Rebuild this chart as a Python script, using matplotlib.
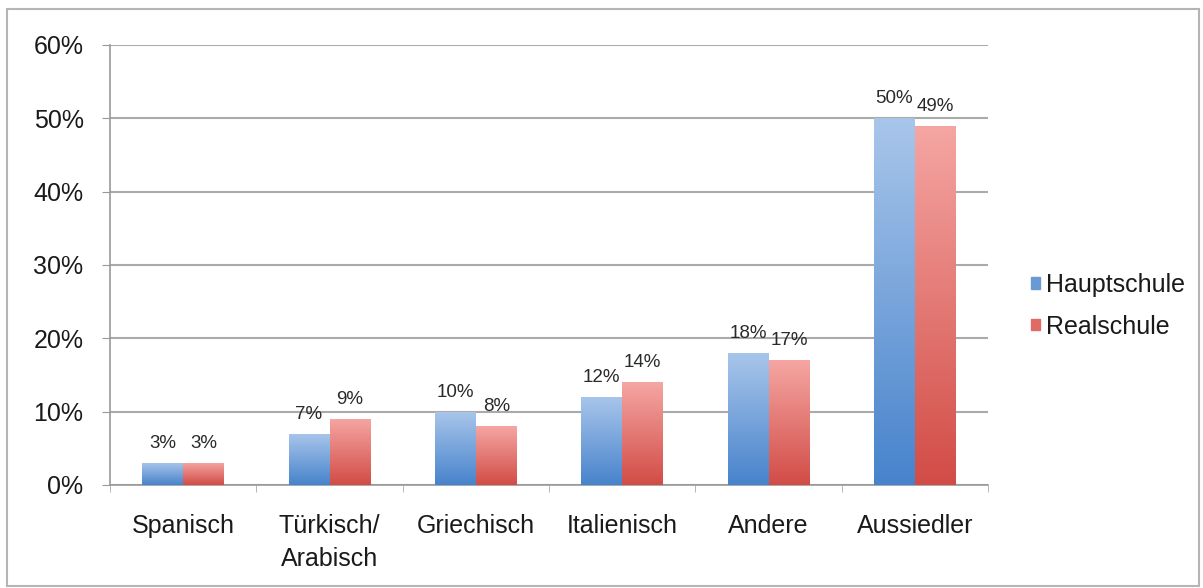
import numpy as np
import matplotlib
matplotlib.use("Agg")
import matplotlib.pyplot as plt
from matplotlib.colors import LinearSegmentedColormap
from matplotlib.patches import Rectangle

# data
categories = ["Spanisch", "Türkisch/\nArabisch", "Griechisch", "Italienisch", "Andere", "Aussiedler"]
hauptschule = [3, 7, 10, 12, 18, 50]
realschule = [3, 9, 8, 14, 17, 49]
series_names = ["Hauptschule", "Realschule"]

blue_grad = LinearSegmentedColormap.from_list("b", ["#4783cc", "#a9c6ea"])
red_grad = LinearSegmentedColormap.from_list("r", ["#d24c46", "#f5a6a3"])

plt.rcParams['font.family'] = ['Liberation Sans', 'DejaVu Sans']

fig = plt.figure(figsize=(12.03, 5.88), dpi=100)
ax = fig.add_axes([0.0914, 0.1752, 0.73, 0.7483])

# outer frame round the whole chart
fig.patches.append(Rectangle((7 / 1203, 2 / 588), 1192 / 1203, 577 / 588,
                             transform=fig.transFigure, fill=False,
                             edgecolor="#b5b5b5", linewidth=1.5))

x = np.arange(len(categories))
w = 0.28
grad = np.linspace(0, 1, 256).reshape(-1, 1)

def grad_bars(xs, vals, cmap):
    bars = ax.bar(xs, vals, w, color="none", edgecolor="none", zorder=3)
    for b, v in zip(bars, vals):
        x0 = b.get_x()
        im = ax.imshow(grad, cmap=cmap, origin="lower", aspect="auto",
                       extent=[x0, x0 + w, 0, v], zorder=3)
        im.set_clip_path(b)
    return bars

bh = grad_bars(x - w / 2, hauptschule, blue_grad)
br = grad_bars(x + w / 2, realschule, red_grad)

for xs, vals in [(x - w / 2, hauptschule), (x + w / 2, realschule)]:
    for xi, v in zip(xs, vals):
        ax.annotate(f"{v}%", (xi, v), xytext=(0, 8), textcoords="offset points",
                    ha="center", va="bottom", fontsize=13.5, color="#2a2a2a")

ax.set_xlim(-0.5, len(categories) - 0.5)
ax.set_ylim(0, 60)
ax.set_yticks(range(0, 61, 10))
ax.set_yticklabels([f"{v}%" for v in range(0, 61, 10)], fontsize=18, color="#1a1a1a")
ax.set_xticks(x)
ax.set_xticklabels(categories, fontsize=18, color="#1a1a1a", linespacing=1.45)
ax.set_xticks(np.arange(-0.5, len(categories), 1), minor=True)
ax.tick_params(axis="x", which="major", length=0, pad=21)
ax.tick_params(axis="x", which="minor", length=5, color="#aaaaaa")
ax.tick_params(axis="y", length=6, color="#999999", pad=13)

ax.grid(axis="y", color="#aaaaaa", linewidth=1.5, zorder=0)
ax.set_axisbelow(True)
for s in ["top", "right"]:
    ax.spines[s].set_visible(False)
ax.spines["left"].set_color("#999999")
ax.spines["bottom"].set_color("#999999")
ax.spines["left"].set_linewidth(1.2)
ax.spines["bottom"].set_linewidth(1.2)

handles = [Rectangle((0, 0), 1, 1, color="#6a9ad6"), Rectangle((0, 0), 1, 1, color="#e06a64")]
fig.legend(handles, series_names, loc="center left", bbox_to_anchor=(0.857, 0.48),
           frameon=False, fontsize=18, handlelength=0.35, handleheight=0.35,
           handletextpad=0.25, labelspacing=0.7, borderpad=0, borderaxespad=0,
           labelcolor="#1a1a1a")

fig.savefig("out.png", dpi=100, facecolor="white")
